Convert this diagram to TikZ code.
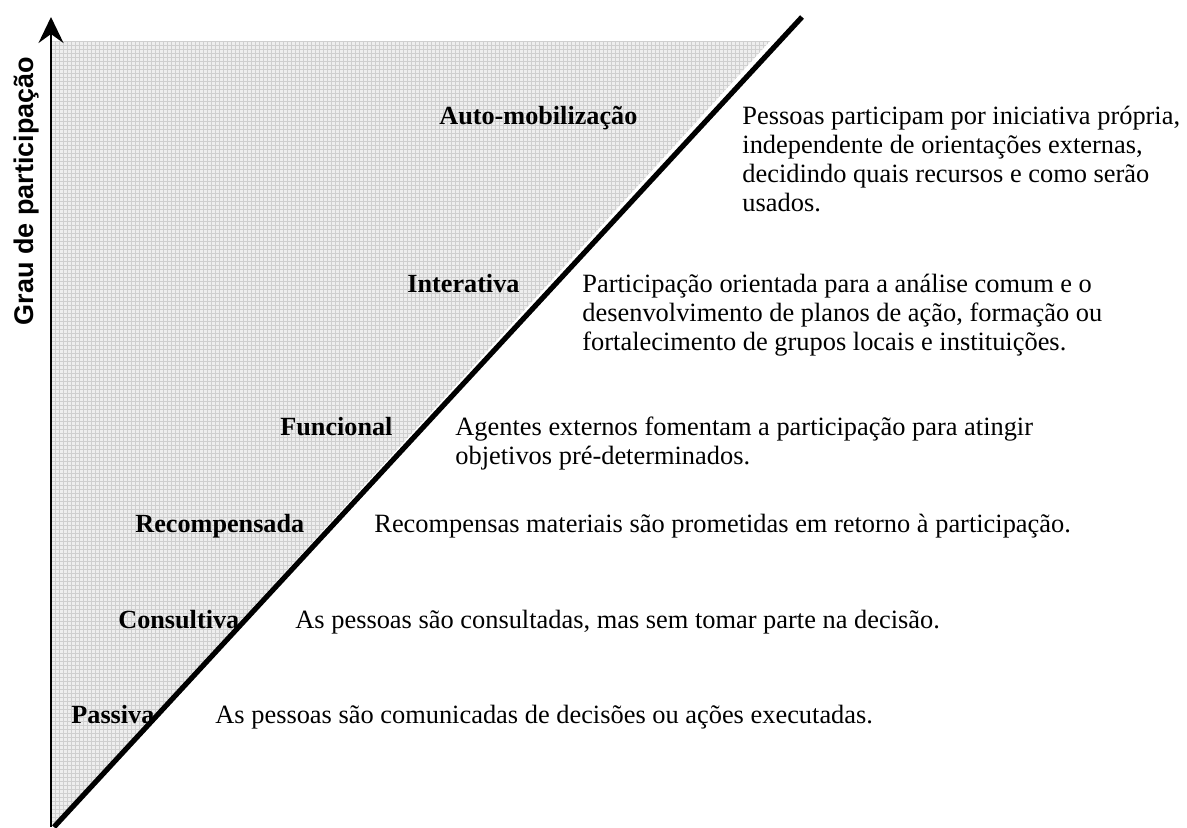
\documentclass[tikz,border=0pt]{standalone}
\usepackage{fontspec}
\setmainfont{Liberation Serif}
\newfontfamily\axisfont{Liberation Sans}
\usetikzlibrary{arrows.meta}
\begin{document}
\begin{tikzpicture}[x=0.5pt,y=-0.5pt,
  lbl/.style={anchor=base west,inner sep=0pt,font=\fontsize{13.1}{14.6}\selectfont\bfseries},
  desc/.style={anchor=base west,inner sep=0pt,font=\fontsize{13.2}{14.6}\selectfont},
  gridline/.style={draw=gray!38,line width=0.35pt}]
\useasboundingbox (0,0) rectangle (1187,827);
% shaded triangle with fine grid
\begin{scope}
  \clip (51,41) -- (770,41) -- (52,827) -- cycle;
  \fill[gray!13] (40,30) rectangle (800,830);
  \foreach \i in {0,...,185} {\draw[gridline] (51+\i*4,30) -- (51+\i*4,830);}
  \foreach \j in {0,...,198} {\draw[gridline] (40,41+\j*4) -- (800,41+\j*4);}
\end{scope}
% axis
\coordinate (o) at (51,827);
\coordinate (top) at (51,17);
\draw[line width=1.1pt,-{Stealth[length=13pt,width=12.5pt,inset=4.5pt]}] (o) -- (top);
% diagonal
\coordinate (d0) at (54,827);
\coordinate (d1) at (802,17);
\draw[line width=2.6pt] (d0) -- (d1);
% axis label
\node[rotate=90,anchor=base,inner sep=0pt,font=\axisfont\bfseries\fontsize{13.5}{16}\selectfont] (ylab) at (33,191) {Grau de participação};
% labels
\node[lbl] (l6) at (439,124) {Auto-mobilização};
\node[desc] (t6) at (742,124) {\begin{tabular}[t]{@{}l@{}}Pessoas participam por iniciativa própria,\\ independente de orientações externas,\\ decidindo quais recursos e como serão\\ usados.\end{tabular}};
\node[lbl] (l5) at (407,292) {Interativa};
\node[desc] (t5) at (582,292) {\begin{tabular}[t]{@{}l@{}}Participação orientada para a análise comum e o\\ desenvolvimento de planos de ação, formação ou\\ fortalecimento de grupos locais e instituições.\end{tabular}};
\node[lbl] (l4) at (280,435) {Funcional};
\node[desc] (t4) at (455,435) {\begin{tabular}[t]{@{}l@{}}Agentes externos fomentam a participação para atingir\\ objetivos pré-determinados.\end{tabular}};
\node[lbl] (l3) at (135,532) {Recompensada};
\node[desc] (t3) at (374,532) {Recompensas materiais são prometidas em retorno à participação.};
\node[lbl] (l2) at (118,628) {Consultiva};
\node[desc] (t2) at (295,628) {As pessoas são consultadas, mas sem tomar parte na decisão.};
\node[lbl] (l1) at (71,723) {Passiva};
\node[desc] (t1) at (215,723) {As pessoas são comunicadas de decisões ou ações executadas.};
\end{tikzpicture}
\end{document}
